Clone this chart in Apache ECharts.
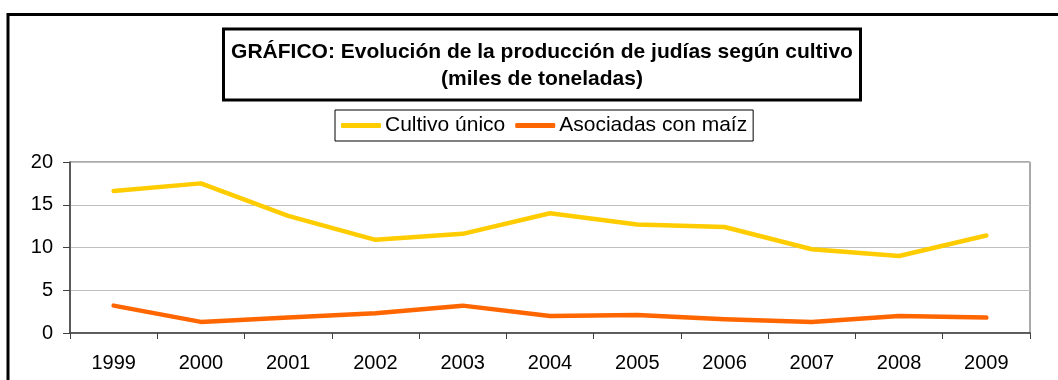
<!DOCTYPE html>
<html>
<head>
<meta charset="utf-8">
<style>
  html, body { margin: 0; padding: 0; background: #ffffff; }
  #chart { width: 1058px; height: 380px; }
</style>
<script src="https://cdn.jsdelivr.net/npm/echarts@6/dist/echarts.min.js"></script>
</head>
<body>
<div id="chart"></div>
<script>
// Production of beans by type of cultivation, thousands of tonnes
const years = ['1999', '2000', '2001', '2002', '2003', '2004', '2005', '2006', '2007', '2008', '2009'];
const cultivoUnico = [16.6, 17.5, 13.7, 10.9, 11.6, 14.0, 12.7, 12.4, 9.8, 9.0, 11.4];
const asociadasMaiz = [3.2, 1.3, 1.8, 2.3, 3.2, 2.0, 2.1, 1.6, 1.3, 2.0, 1.8];
const seriesNames = ['Cultivo único', 'Asociadas con maíz'];
const seriesColors = ['#FFCC00', '#FF6600'];
const titleLines = ['GRÁFICO: Evolución de la producción de judías según cultivo', '(miles de toneladas)'];

const FONT = '"Liberation Sans", Arial, sans-serif';

const chart = echarts.init(document.getElementById('chart'), null, { renderer: 'canvas' });

chart.setOption({
  backgroundColor: '#ffffff',
  animation: false,
  graphic: [{
    // outer chart frame
    type: 'rect',
    shape: { x: 8, y: 14.5, width: 1100, height: 420 },
    style: { fill: 'none', stroke: '#000000', lineWidth: 3 },
    silent: true,
    z: 0
  }],
  title: {
    text: titleLines.join('\n'),
    left: 534,
    top: 28.5,
    textAlign: 'center',
    padding: [10, 8, 8, 8],
    borderColor: '#000000',
    borderWidth: 3,
    textStyle: {
      fontFamily: FONT,
      fontSize: 21,
      fontWeight: 'bold',
      color: '#000000',
      lineHeight: 27
    }
  },
  legend: {
    data: seriesNames,
    left: 335,
    top: 110,
    padding: [5, 6, 5, 6],
    borderColor: '#000000',
    borderWidth: 1,
    itemWidth: 40,
    itemHeight: 5,
    itemGap: 10,
    icon: 'roundRect',
    textStyle: { fontFamily: FONT, fontSize: 21, color: '#000000', padding: [0, 0, 0, -1] }
  },
  grid: {
    left: 70,
    right: 28,
    top: 162,
    bottom: 47,
    show: true,
    borderColor: '#555555',
    borderWidth: 1,
    containLabel: false
  },
  xAxis: {
    type: 'category',
    data: years,
    boundaryGap: true,
    axisLine: { show: true, lineStyle: { color: '#404040', width: 1.5 } },
    axisTick: { show: true, length: 6, inside: false, lineStyle: { color: '#404040' } },
    axisLabel: { fontFamily: FONT, fontSize: 20, color: '#000000', margin: 20 },
    splitLine: { show: false }
  },
  yAxis: {
    type: 'value',
    min: 0,
    max: 20,
    interval: 5,
    axisLine: { show: true, lineStyle: { color: '#404040', width: 1.5 } },
    axisTick: { show: true, length: 7, inside: false, lineStyle: { color: '#404040' } },
    axisLabel: { fontFamily: FONT, fontSize: 20, color: '#000000', margin: 17 },
    splitLine: { show: true, lineStyle: { color: '#c0c0c0', width: 1 } }
  },
  series: [
    {
      name: seriesNames[0],
      type: 'line',
      data: cultivoUnico,
      showSymbol: false,
      symbol: 'none',
      color: seriesColors[0],
      lineStyle: { color: seriesColors[0], width: 4.5, cap: 'round', join: 'round' },
      z: 3
    },
    {
      name: seriesNames[1],
      type: 'line',
      data: asociadasMaiz,
      showSymbol: false,
      symbol: 'none',
      color: seriesColors[1],
      lineStyle: { color: seriesColors[1], width: 4.5, cap: 'round', join: 'round' },
      z: 3
    }
  ]
});
</script>
</body>
</html>
